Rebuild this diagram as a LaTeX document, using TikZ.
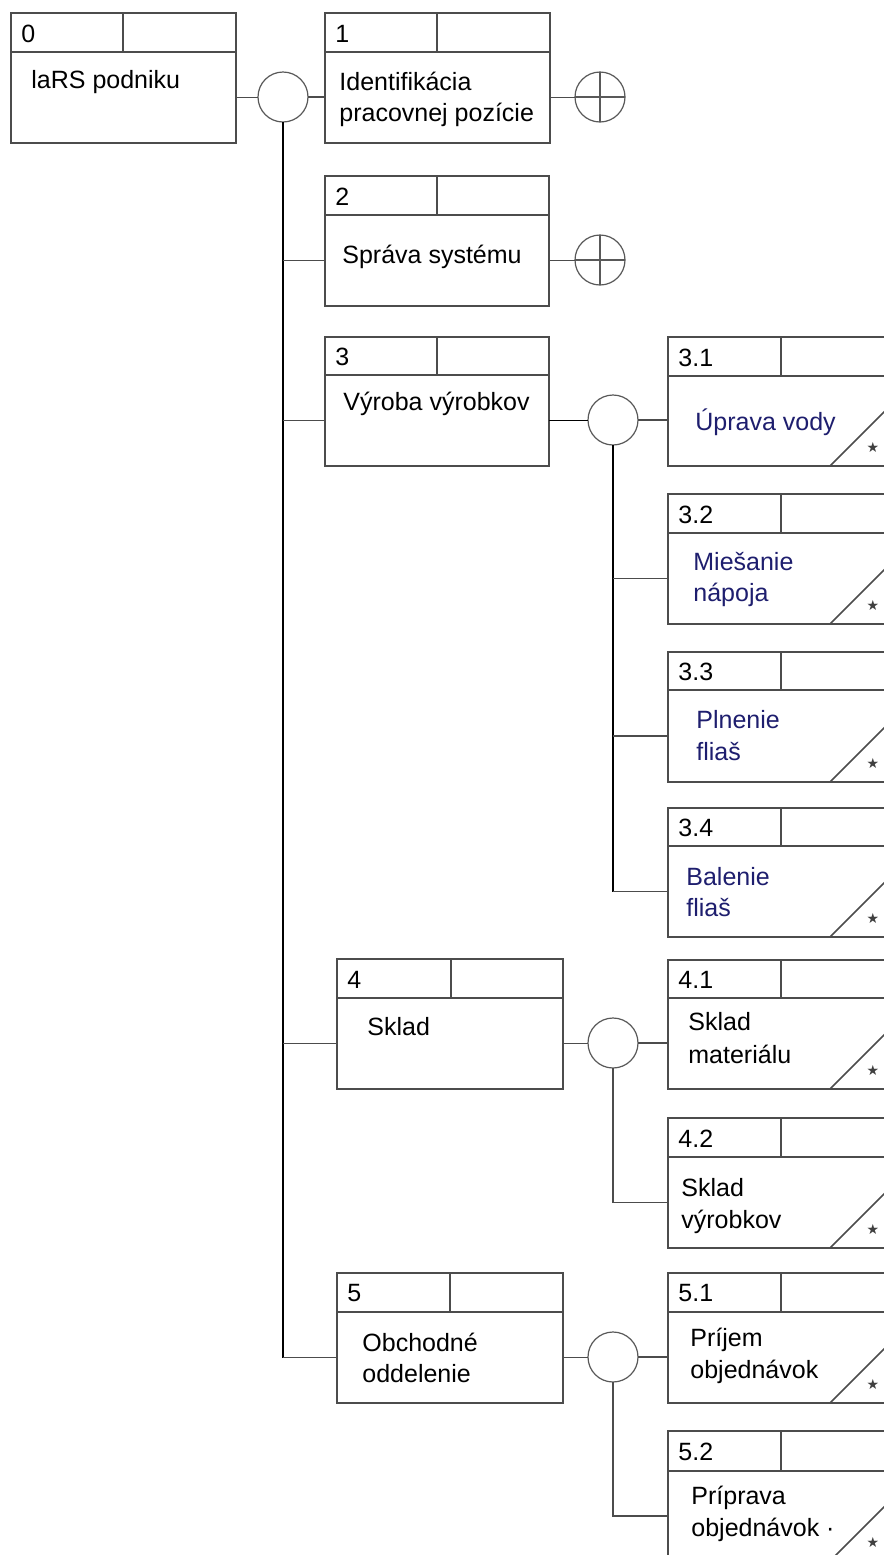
\documentclass[tikz,border=0pt]{standalone}
\usepackage{fontspec}
\setmainfont{Liberation Sans}
\newfontfamily\symfont{DejaVu Sans}
\definecolor{navytxt}{RGB}{30,30,110}
\newcommand\erbox[8]{%
  \node[boxbody, minimum width={(#4-#2)*0.5pt}, minimum height={(#6-#5)*0.5pt}] (#1) at ({(#2+#4)/2},{(#5+#6)/2}) {};
  \node[boxbody, minimum width={(#4-#2)*0.5pt}, minimum height={(#5-#3)*0.5pt}] (#1h) at ({(#2+#4)/2},{(#3+#5)/2}) {};
  \draw[line] (#7,#3) -- (#7,#5);
  \node[lbl] (#1l) at ({#2+10},{(#3+#5)/2+1}) {#8};
}
\newcommand\slashmark[2]{%
  \draw[line] (830,#2) -- ++(80,-80);
  \node[starmark] (#1s) at (873,{#2-19}) {★};
}
\begin{document}
\begin{tikzpicture}[x=0.5pt,y=-0.5pt,
  line/.style={draw=black!70, line width=0.75pt},
  conn/.style={draw=black!70, line width=0.8pt},
  trunk/.style={draw=black, line width=0.85pt},
  boxbody/.style={rectangle, draw=black!70, line width=0.75pt, inner sep=0pt, outer sep=0pt},
  circ/.style={circle, draw=black!65, line width=0.6pt, minimum size=25pt, inner sep=0pt, outer sep=0pt, fill=white},
  txt/.style={anchor=base west, inner sep=0pt, font=\fontsize{12.5}{15.5}\selectfont},
  bluetxt/.style={txt, text=navytxt},
  lbl/.style={anchor=west, inner sep=0pt, font=\fontsize{12.5}{15}\selectfont},
  starmark/.style={inner sep=0pt, font=\symfont\fontsize{7}{8}\selectfont, text=black!75},
]
\useasboundingbox (0,0) rectangle (884,1555);
\fill[white] (0,0) rectangle (884,1555);
\clip (0,0) rectangle (884,1555);

% boxes
\erbox{b0}{11}{13}{236}{52}{143}{123}{0}
\erbox{b1}{325}{13}{550}{52}{143}{437}{1}
\erbox{b2}{325}{176}{549}{215}{306}{437}{2}
\erbox{b3}{325}{337}{549}{375}{466}{437}{3}
\erbox{b31}{668}{337}{1000}{376}{466}{781}{3.1}
\erbox{b32}{668}{494}{1000}{533}{624}{781}{3.2}
\erbox{b33}{668}{652}{1000}{690}{782}{781}{3.3}
\erbox{b34}{668}{808}{1000}{846}{937}{781}{3.4}
\erbox{b4}{337}{959}{563}{998}{1089}{451}{4}
\erbox{b41}{668}{960}{1000}{998}{1089}{781}{4.1}
\erbox{b42}{668}{1118}{1000}{1157}{1248}{781}{4.2}
\erbox{b5}{337}{1273}{563}{1312}{1403}{450}{5}
\erbox{b51}{668}{1273}{1000}{1312}{1403}{781}{5.1}
\erbox{b52}{668}{1431}{1000}{1471}{1561}{781}{5.2}

% slashes and stars
\slashmark{b31}{466}
\slashmark{b32}{624}
\slashmark{b33}{782}
\slashmark{b34}{937}
\slashmark{b41}{1089}
\slashmark{b42}{1248}
\slashmark{b51}{1403}
\slashmark{b52}{1561}

% texts
\node[txt] (t0) at (31,88) {laRS podniku};
\node[txt] (t1a) at (339,90) {Identifikácia};
\node[txt] (t1b) at (339,121) {pracovnej pozície};
\node[txt] (t2) at (342,263) {Správa systému};
\node[txt] (t3) at (343,410) {Výroba výrobkov};
\node[bluetxt] (t31) at (695,430) {Úprava vody};
\node[bluetxt] (t32a) at (693,570) {Miešanie};
\node[bluetxt] (t32b) at (693,601) {nápoja};
\node[bluetxt] (t33a) at (696,728) {Plnenie};
\node[bluetxt] (t33b) at (696,760) {fliaš};
\node[bluetxt] (t34a) at (686,885) {Balenie};
\node[bluetxt] (t34b) at (686,916) {fliaš};
\node[txt] (t4) at (367,1035) {Sklad};
\node[txt] (t41a) at (688,1030) {Sklad};
\node[txt] (t41b) at (688,1063) {materiálu};
\node[txt] (t42a) at (681,1196) {Sklad};
\node[txt] (t42b) at (681,1228) {výrobkov};
\node[txt] (t5a) at (362,1351) {Obchodné};
\node[txt] (t5b) at (362,1382) {oddelenie};
\node[txt] (t51a) at (690,1346) {Príjem};
\node[txt] (t51b) at (690,1378) {objednávok};
\node[txt] (t52a) at (691,1504) {Príprava};
\node[txt] (t52b) at (691,1536) {objednávok ·};

% connector circles
\node[circ] (c0) at (283,97) {};
\node[circ] (p1) at (600,97) {};
\node[circ] (p2) at (600,260) {};
\node[circ] (c3) at (613,420) {};
\node[circ] (c4) at (613,1043) {};
\node[circ] (c5) at (613,1357) {};
\draw[draw=black!65, line width=0.6pt] (p1.north) -- (p1.south) (p1.west) -- (p1.east);
\draw[draw=black!65, line width=0.6pt] (p2.north) -- (p2.south) (p2.west) -- (p2.east);

% level 0
\draw[conn] (b0.east) -- (b0.east -| c0.west);
\draw[conn] (c0.east) -- (c0.east -| b1.west);
\draw[trunk] (c0.south) -- (c0.south |- b5.west);
\draw[conn] (c0.south |- b2.west) -- (b2.west);
\draw[conn] (c0.south |- b3.west) -- (b3.west);
\draw[conn] (c0.south |- b4.west) -- (b4.west);
\draw[conn] (c0.south |- b5.west) -- (b5.west);
\draw[conn] (b1.east) -- (b1.east -| p1.west);
\draw[conn] (b2.east) -- (b2.east -| p2.west);

% level 3
\draw[trunk] (b3.east) -- (b3.east -| c3.west);
\draw[conn] (c3.east) -- (c3.east -| b31.west);
\draw[trunk] (c3.south) -- (c3.south |- b34.west);
\draw[conn] (c3.south |- b32.west) -- (b32.west);
\draw[conn] (c3.south |- b33.west) -- (b33.west);
\draw[conn] (c3.south |- b34.west) -- (b34.west);

% level 4
\draw[conn] (b4.east) -- (b4.east -| c4.west);
\draw[conn] (c4.east) -- (c4.east -| b41.west);
\draw[conn] (c4.south) -- (c4.south |- b42.west) -- (b42.west);

% level 5
\draw[conn] (b5.east) -- (b5.east -| c5.west);
\draw[conn] (c5.east) -- (c5.east -| b51.west);
\draw[conn] (c5.south) -- (c5.south |- b52.west) -- (b52.west);
\end{tikzpicture}
\end{document}
